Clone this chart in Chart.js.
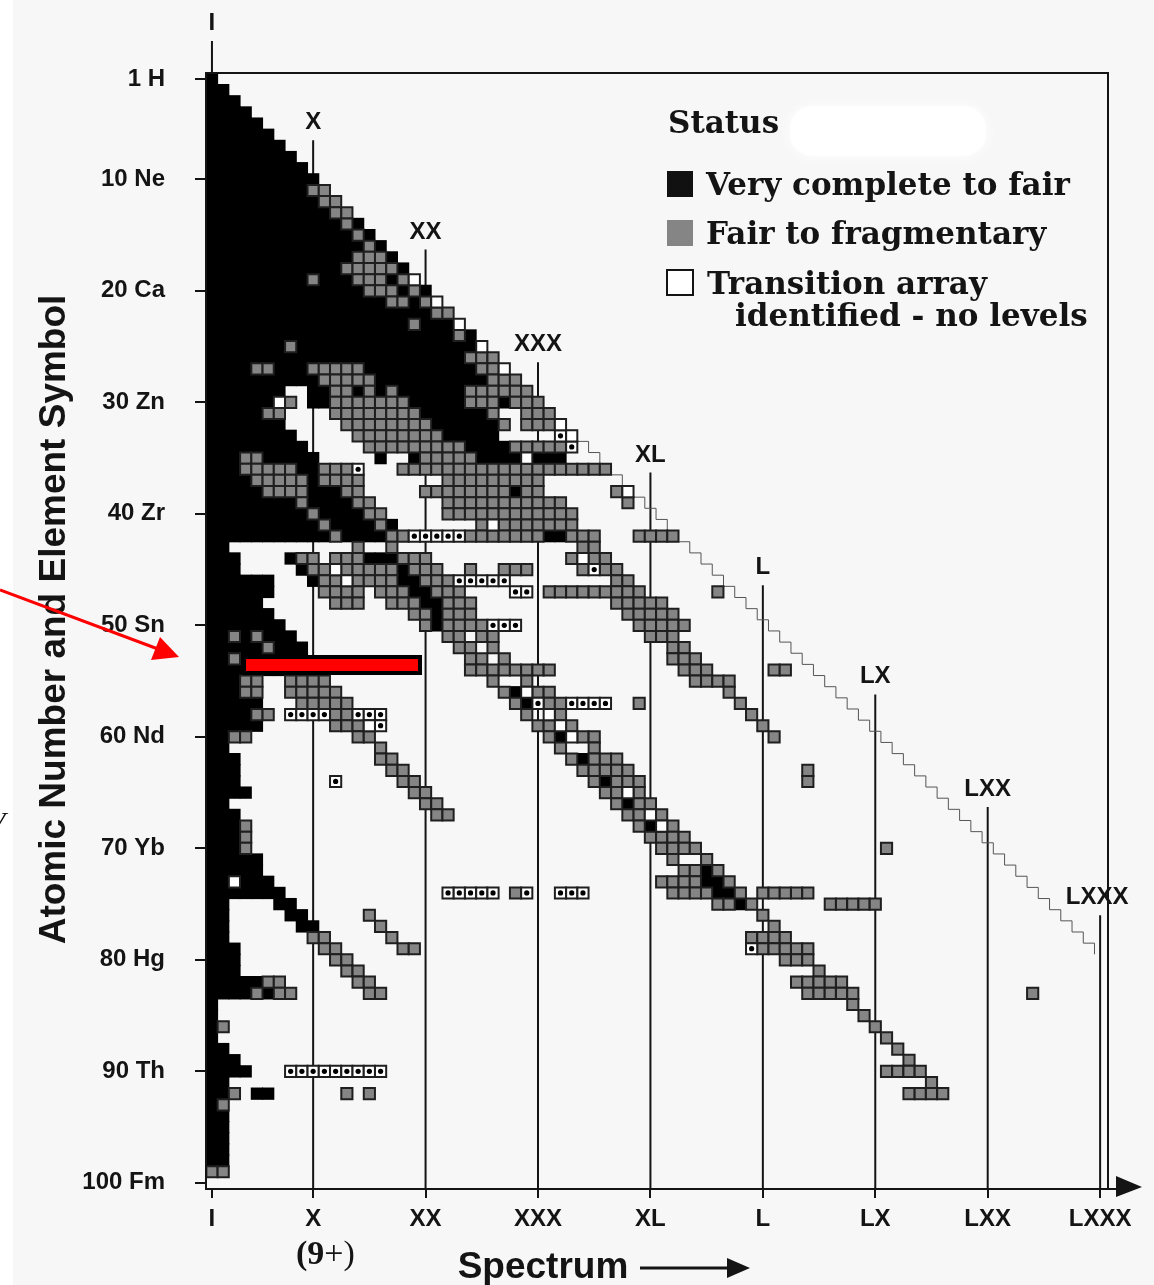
<!DOCTYPE html>
<html>
<head>
<meta charset="utf-8">
<title>Spectrum status chart</title>
<script src="https://cdn.jsdelivr.net/npm/chart.js@4"></script>
<style>
  html, body { margin: 0; padding: 0; background: #ffffff; }
  canvas { display: block; }
</style>
</head>
<body>
<canvas id="statusChart" width="1154" height="1285"></canvas>
<script>
// Tick values and labels
const spectrumTicks = [1, 10, 20, 30, 40, 50, 60, 70, 80];
const spectrumLabels = ['I', 'X', 'XX', 'XXX', 'XL', 'L', 'LX', 'LXX', 'LXXX'];
const elementTicks = [1, 10, 20, 30, 40, 50, 60, 70, 80, 90, 100];
const elementLabels = ['1 H', '10 Ne', '20 Ca', '30 Zn', '40 Zr', '50 Sn', '60 Nd', '70 Yb', '80 Hg', '90 Th', '100 Fm'];

// Atomic number where each vertical spectrum line starts
const lineStarts = [-2.4, 6.5, 16.3, 26.4, 36.3, 46.4, 56.2, 66.3, 76];

// Corners of the thin staircase along the diagonal
const stairSteps = [32, 33, 34, 35, 36, 37, 38, 39, 40, 41, 42, 43, 44, 45, 46, 47, 48, 49, 50, 51, 52, 53, 54, 55,
  56, 57, 58, 59, 60, 61, 62, 63, 64, 65, 66, 67, 68, 69, 70, 71, 72, 73, 74, 75, 76, 77, 78, 79];

// Cells per element: [Z, from, to, from, to, ...] in spectrum numbers
const blackRows = [
  [1,1,1],[2,1,2],[3,1,3],[4,1,4],[5,1,5],[6,1,6],[7,1,7],[8,1,8],[9,1,9],[10,1,10],
  [11,1,9],[12,1,10],[13,1,11],[14,1,12,14,14],[15,1,13,15,15],[16,1,14,16,16],[17,1,13,17,17],[18,1,12,18,18],
  [19,1,9,11,13,17,17],[20,1,14,18,18,20,20],[21,1,16,19,19],[22,1,20],[23,1,18,20,22],[24,1,22,24,24],
  [25,1,7,9,24],[26,1,23],[27,1,4,7,9,15,24],[28,1,10,16,25],[29,1,7,10,11,14,14,16,16,18,23],
  [30,1,6,10,11,19,23,27,27],[31,1,5,20,25],[32,1,7,21,26],[33,1,8,22,26],[34,1,9,24,27],
  [35,1,3,6,10,16,16,19,19,25,28,30,32],[36,1,3,9,10],[37,1,4,10,10],[38,1,5,10,12,28,28],[39,1,8,10,13],
  [40,1,9,11,14],[41,1,10,12,15,17,17],[42,1,11,13,16,31,32],[43,1,2],[44,1,3,8,8,15,17],[45,1,3,9,9,18,18],
  [46,1,6,10,10,18,19],[47,1,6,19,20],[48,1,5,20,21],[49,1,6,21,21],[50,1,7,21,21],[51,1,2,4,4,6,8],
  [52,1,5,7,9],[53,1,2,4,9],[54,1,9],[55,1,3],[56,1,3,28,28],[57,1,5,29,29],[58,1,4],[59,1,5],[60,1,2,32,32],
  [61,1,2],[62,1,3,34,34],[63,1,3],[64,1,3,36,36],[65,1,4],[66,1,2,38,38],[67,1,3],[68,1,3,40,40],[69,1,3],
  [70,1,3],[71,1,5],[72,1,5,45,45],[73,1,2,4,6,45,46],[74,1,7,46,47],[75,1,2,7,8,48,48],[76,1,2,8,9],
  [77,1,2,9,10],[78,1,2],[79,1,3],[80,1,3],[81,1,3],[82,1,5],[83,1,4,6,6],[84,1,1],[85,1,1],[86,1,1],[87,1,1],
  [88,1,2],[89,1,3],[90,1,4],[91,1,2],[92,1,2,5,6],[93,1,1],[94,1,2],[95,1,2],[96,1,2],[97,1,2],[98,1,2]
];
const grayRows = [
  [11,10,11],[12,11,12],[13,12,13],[14,13,13],[15,14,14],[16,15,15],[17,14,16],[18,13,17],
  [19,10,10,14,16,18,18],[20,15,17,19,19],[21,17,18,20,20],[22,21,22],[23,19,19],[24,23,23],[25,8,8],[26,24,26],
  [27,5,6,10,14,25,26],[28,11,15,26,28],[29,12,13,15,15,17,17,24,29],[30,8,8,12,18,24,26,28,30],
  [31,6,7,12,19,26,26,29,31],[32,13,20,27,27,29,31],[33,14,21],[34,15,23,28,32],[35,4,5,20,24],
  [36,4,8,11,13,18,36],[37,5,9,11,14,22,30],[38,6,9,13,14,20,27,29,30,37,37],[39,9,9,14,15,22,32,38,38],
  [40,10,10,15,16,22,33],[41,11,11,16,16,25,25,27,33],[42,12,12,17,18,24,30,33,35,39,42],[43,14,14,17,17,34,35],
  [44,9,10,12,14,18,20,33,33,35,36],[45,10,11,13,17,19,21,24,24,27,29,34,34,36,37],
  [46,11,12,14,17,20,22,37,38],[47,11,14,16,18,21,23,31,39,46,46],[48,12,14,17,19,22,24,37,41],
  [49,19,20,22,24,38,42],[50,20,20,22,25,39,43],[51,3,3,5,5,22,23,25,26,40,42],[52,6,6,23,24,26,26,42,43],
  [53,3,3,24,25,27,27,42,44],[54,24,31,43,45,51,52],[55,4,5,8,11,26,26,29,29,44,47],
  [56,4,5,8,12,27,27,30,31,47,47],[57,9,13,28,28,31,32,39,39,48,48],[58,5,6,12,13,29,29,32,32,49,49],
  [59,12,14,30,31,33,33,50,50],[60,3,4,14,15,31,31,34,35,51,51],[61,16,16,32,32,35,35],[62,16,17,33,33,35,37],
  [63,17,18,34,38,54,54],[64,18,19,35,35,37,39,54,54],[65,19,20,36,37,39,39],[66,20,21,37,37,39,40],
  [67,21,22,38,39,41,41],[68,4,4,39,39,42,42],[69,4,4,40,43],[70,4,4,41,44,61,61],[71,42,42,45,45],
  [72,43,44,46,46],[73,41,44,47,47],[74,28,28,42,45,48,48,50,54],[75,46,47,49,49,56,60],[76,15,15,50,50],
  [77,16,16,51,51],[78,10,11,17,17,49,52],[79,11,12,18,19,50,54],[80,12,13,52,54],[81,13,14,55,55],
  [82,6,7,14,15,53,57],[83,5,5,7,8,15,16,54,58,74,74],[84,58,58],[85,59,59],[86,2,2,60,60],[87,61,61],
  [88,62,62],[89,63,63],[90,61,64],[91,65,65],[92,3,3,13,13,15,15,63,66],[93,2,2],[99,1,2]
];
const openRows = [
  [19,19,19],[21,21,21],[23,23,23],[25,25,25],[27,27,27],[30,7,7],[32,32,32],[33,33,33],[35,29,29],[38,38,38],
  [41,26,26],[44,34,34],[45,12,12],[46,13,13],[56,29,29],[58,31,31],[59,15,15,32,32],[60,33,33],[65,38,38],
  [67,40,40],[68,41,41],[73,3,3]
];
const dottedRows = [
  [33,32,32],[34,33,33],[36,14,14],[42,19,23],[45,35,35],[46,23,27],[47,28,29],[50,26,28],[57,30,30,33,36],
  [58,8,11,14,16],[59,16,16],[64,12,12],[74,22,26,29,29,32,34],[79,49,49],[90,8,16]
];

const statusTitle = 'Status';
const statusLabels = ['Very complete to fair', 'Fair to fragmentary', 'Transition array', 'identified - no levels'];

const INK = '#141414';
const GRAY = '#858585';
const SANS = '"Liberation Sans", Arial, sans-serif';
const SERIF = '"DejaVu Serif", serif';

// Expand the from/to pairs into one point per cell
function toPoints(rows) {
    const points = [];
    rows.forEach(([z, ...ranges]) => {
        for (let i = 0; i < ranges.length; i += 2) {
            for (let s = ranges[i]; s <= ranges[i + 1]; s++) {
                points.push({ x: s, y: z });
            }
        }
    });
    return points;
}

const lineDatasets = spectrumTicks.map((s, i) => ({
    label: spectrumLabels[i] + ' line',
    data: [{ x: s, y: lineStarts[i] }, { x: s, y: i === 0 ? 0.46 : 100.55 }],
    showLine: true,
    borderColor: INK,
    borderWidth: 2,
    pointRadius: 0,
    clip: false,
    order: 6
}));

function cellDataset(label, rows, fill, stroke, radius, width, order) {
    return {
        label,
        data: toPoints(rows),
        pointStyle: 'rect',
        pointRadius: radius,
        pointHoverRadius: radius,
        backgroundColor: fill,
        borderColor: stroke,
        borderWidth: width,
        clip: false,
        order
    };
}

// Background, annotations and the text that sits outside the axes
const decorations = {
    id: 'decorations',
    beforeDraw(chart) {
        const c = chart.ctx;
        c.save();
        c.fillStyle = '#f7f7f7';
        c.fillRect(13, 0, 1141, 1285);
        c.fillStyle = '#ffffff';
        c.shadowColor = '#ffffff';
        c.shadowBlur = 14;
        c.beginPath();
        c.roundRect(790, 106, 196, 50, 22);
        c.fill();
        c.restore();
    },
    afterDatasetsDraw(chart) {
        const c = chart.ctx;
        const { left, right, top, bottom } = chart.chartArea;
        const xs = chart.scales.x;
        const ys = chart.scales.y;
        c.save();

        // Frame and x axis arrow
        c.strokeStyle = INK;
        c.lineWidth = 2;
        c.strokeRect(left, top, right - left, bottom - top);
        c.beginPath();
        c.moveTo(right, bottom);
        c.lineTo(1120, bottom);
        c.stroke();
        c.fillStyle = INK;
        c.beginPath();
        c.moveTo(1116, 1176);
        c.lineTo(1142, 1187);
        c.lineTo(1116, 1197);
        c.closePath();
        c.fill();

        // Roman numerals on top of each line
        c.font = 'bold 24px ' + SANS;
        c.textAlign = 'center';
        c.textBaseline = 'alphabetic';
        spectrumTicks.forEach((s, i) => {
            c.fillText(spectrumLabels[i], xs.getPixelForValue(s) - (i === 8 ? 3 : 0), ys.getPixelForValue(lineStarts[i]) - 11);
        });

        // Axis titles
        c.font = 'bold 37px ' + SANS;
        c.fillText('Spectrum', 543, 1278);
        c.save();
        c.translate(65, 619.5);
        c.rotate(-Math.PI / 2);
        c.fillText('Atomic Number and Element Symbol', 0, 0);
        c.restore();
        c.lineWidth = 3;
        c.beginPath();
        c.moveTo(640, 1268);
        c.lineTo(730, 1268);
        c.stroke();
        c.beginPath();
        c.moveTo(727, 1258);
        c.lineTo(750, 1268);
        c.lineTo(727, 1278);
        c.closePath();
        c.fill();

        // (9+) under the X tick
        c.textAlign = 'left';
        c.font = 'bold 34px "Liberation Serif", serif';
        c.fillText('(9', 296, 1264);
        const w = c.measureText('(9').width;
        c.font = '34px "Liberation Serif", serif';
        c.fillText('+)', 296 + w, 1264);
        c.font = 'italic 30px "Liberation Serif", serif';
        c.fillText('V', -13, 832);

        // Status legend
        c.font = 'bold 31px ' + SERIF;
        c.fillText(statusTitle, 668, 133);
        c.fillText(statusLabels[0], 706, 195);
        c.fillText(statusLabels[1], 706, 244);
        c.fillText(statusLabels[2], 707, 294);
        c.fillText(statusLabels[3], 735, 326);
        c.fillStyle = '#111111';
        c.fillRect(667, 171, 26, 26);
        c.fillStyle = GRAY;
        c.fillRect(667, 220, 26, 26);
        c.fillStyle = '#ffffff';
        c.lineWidth = 2;
        c.fillRect(667, 270, 26, 25);
        c.strokeRect(667, 270, 26, 25);

        // Red marker bar and arrow
        c.fillStyle = '#000000';
        c.fillRect(243, 655, 179, 20);
        c.fillStyle = '#ff0000';
        c.fillRect(246, 659, 172, 12);
        c.strokeStyle = '#ff0000';
        c.lineWidth = 3;
        c.beginPath();
        c.moveTo(0, 590);
        c.lineTo(158, 649);
        c.stroke();
        c.beginPath();
        c.moveTo(160, 637);
        c.lineTo(179, 657);
        c.lineTo(151, 660);
        c.closePath();
        c.fill();
        c.restore();
    }
};

new Chart(document.getElementById('statusChart').getContext('2d'), {
    type: 'scatter',
    data: {
        datasets: [
            ...lineDatasets,
            {
                label: 'Staircase',
                data: stairSteps.map(s => ({ x: s + 0.5, y: s + 0.5 })),
                showLine: true,
                stepped: true,
                borderColor: '#555555',
                borderWidth: 1,
                pointRadius: 0,
                order: 5
            },
            cellDataset(statusLabels[0], blackRows, '#000000', '#000000', 8.7, 0, 3),
            cellDataset(statusLabels[1], grayRows, GRAY, '#1f1f1f', 7.9, 2, 2),
            cellDataset('Transition array identified - no levels', openRows, '#ffffff', '#1f1f1f', 7.9, 2, 1),
            cellDataset('Transition array, marked', dottedRows, '#ffffff', '#1f1f1f', 7.9, 2, 1),
            {
                label: 'Marker dots',
                data: toPoints(dottedRows),
                pointStyle: 'circle',
                pointRadius: 2.6,
                backgroundColor: '#000000',
                borderWidth: 0,
                clip: false,
                order: 0
            }
        ]
    },
    options: {
        responsive: false,
        animation: false,
        layout: { padding: { top: 73, right: 46 } },
        plugins: {
            legend: { display: false },
            title: { display: false },
            tooltip: { enabled: false }
        },
        scales: {
            x: {
                type: 'linear',
                min: 0.47,
                max: 80.7,
                afterBuildTicks: axis => { axis.ticks = spectrumTicks.map(v => ({ value: v })); },
                afterFit: axis => { axis.height = 96; },
                grid: { drawOnChartArea: false, color: INK, lineWidth: 2, tickLength: 9 },
                border: { display: false },
                ticks: {
                    autoSkip: false,
                    maxRotation: 0,
                    padding: 7,
                    color: INK,
                    font: { family: SANS, size: 24, weight: 'bold' },
                    callback: v => spectrumLabels[spectrumTicks.indexOf(v)]
                }
            },
            y: {
                type: 'linear',
                reverse: true,
                min: 0.46,
                max: 100.55,
                afterBuildTicks: axis => { axis.ticks = elementTicks.map(v => ({ value: v })); },
                afterFit: axis => { axis.width = 206; },
                grid: { drawOnChartArea: false, color: INK, lineWidth: 2, tickLength: 11 },
                border: { display: false },
                ticks: {
                    autoSkip: false,
                    padding: 30,
                    color: INK,
                    font: { family: SANS, size: 24, weight: 'bold' },
                    callback: v => elementLabels[elementTicks.indexOf(v)]
                }
            }
        }
    },
    plugins: [decorations]
});
</script>
</body>
</html>
